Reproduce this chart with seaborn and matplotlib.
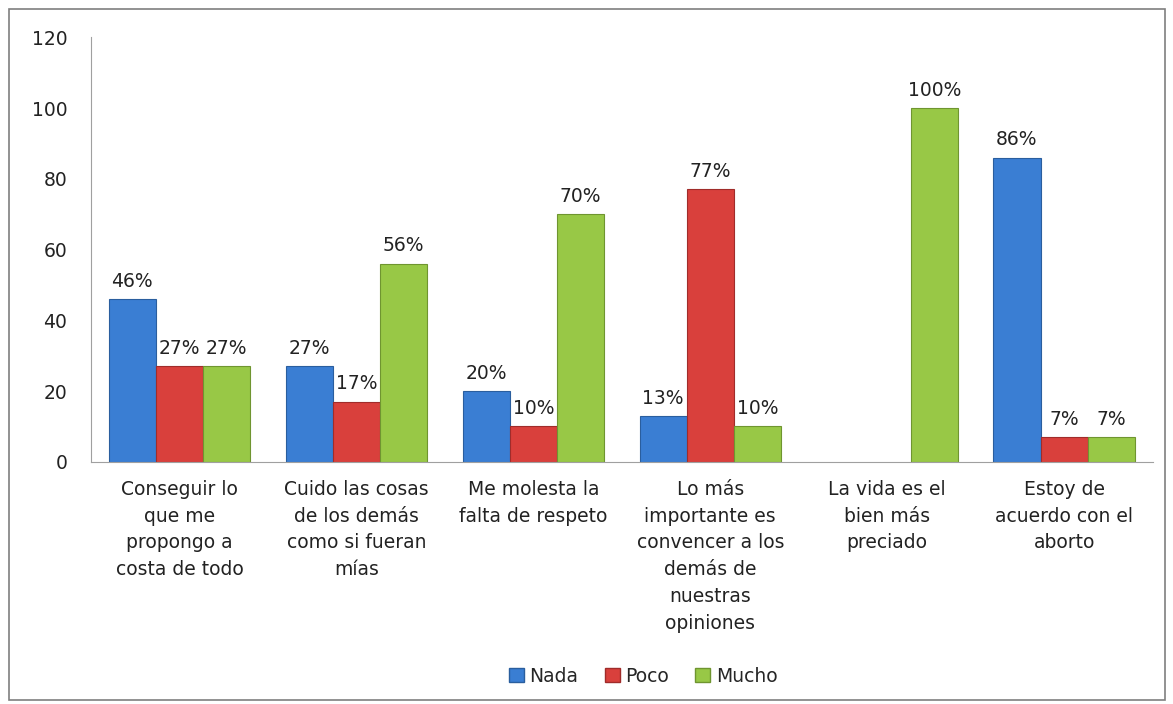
import pandas as pd
import matplotlib.pyplot as plt
import seaborn as sns
from matplotlib.patches import Rectangle

# Data
categories = [
    "Conseguir lo\nque me\npropongo a\ncosta de todo",
    "Cuido las cosas\nde los demás\ncomo si fueran\nmías",
    "Me molesta la\nfalta de respeto",
    "Lo más\nimportante es\nconvencer a los\ndemás de\nnuestras\nopiniones",
    "La vida es el\nbien más\npreciado",
    "Estoy de\nacuerdo con el\naborto",
]
nada = [46, 27, 20, 13, 0, 86]
poco = [27, 17, 10, 77, 0, 7]
mucho = [27, 56, 70, 10, 100, 7]
series = ["Nada", "Poco", "Mucho"]
colors = ["#3a7ed3", "#d9403c", "#98c846"]
edges = ["#2a5e9e", "#a02c2a", "#6f9530"]

df = pd.DataFrame({
    "cat": categories * 3,
    "serie": ["Nada"] * 6 + ["Poco"] * 6 + ["Mucho"] * 6,
    "valor": nada + poco + mucho,
})

sns.set_style("white")
plt.rcParams["font.family"] = ["DejaVu Sans"]

fig = plt.figure(figsize=(11.73, 7.04), dpi=100)
ax = fig.add_axes([0.0776, 0.344, 0.905, 0.603])

sns.barplot(data=df, x="cat", y="valor", hue="serie", hue_order=series,
            palette=colors, saturation=1, width=0.8, ax=ax, legend=True)

for cont, ec in zip(ax.containers, edges):
    for bar, v in zip(cont, cont.datavalues):
        bar.set_edgecolor(ec)
        bar.set_linewidth(0.8 if v > 0 else 0)
    labels = [f"{int(v)}%" if v > 0 else "" for v in cont.datavalues]
    ax.bar_label(cont, labels=labels, padding=6, fontsize=13.5, color="#222222")

ax.set_ylim(0, 120)
ax.set_yticks(range(0, 121, 20))
ax.set_xlabel("")
ax.set_ylabel("")
ax.tick_params(axis="both", length=0, labelsize=13.5, colors="#222222")
ax.tick_params(axis="y", pad=17)
ax.tick_params(axis="x", pad=13)
for lab in ax.get_xticklabels():
    lab.set_linespacing(1.52)
for side in ["top", "right"]:
    ax.spines[side].set_visible(False)
ax.spines["left"].set_color("#a0a0a0")
ax.spines["bottom"].set_color("#a0a0a0")

leg = ax.legend(loc="center", bbox_to_anchor=(0.52, -0.505), ncol=3, frameon=False,
                fontsize=13.5, handlelength=0.8, handleheight=0.8, handletextpad=0.3,
                columnspacing=1.4)
for h, ec in zip(leg.legend_handles, edges):
    h.set_edgecolor(ec)

fig.patches.append(Rectangle((0.008, 0.005), 0.985, 0.982, transform=fig.transFigure,
                             fill=False, edgecolor="#7f7f7f", linewidth=1.2))

fig.savefig("out.png", dpi=100)
